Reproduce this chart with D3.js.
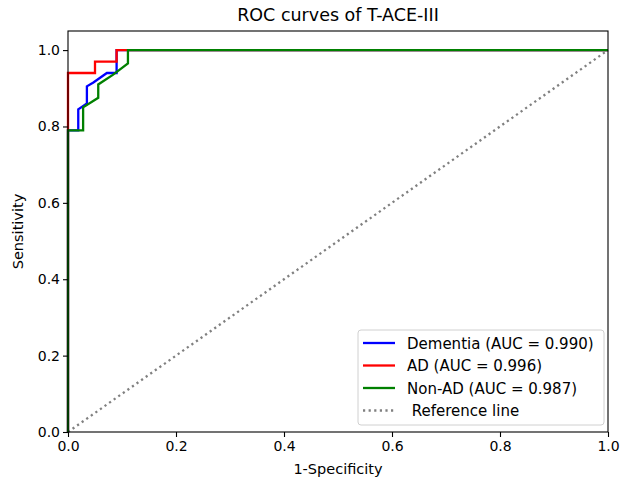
<!DOCTYPE html>
<html>
<head>
<meta charset="utf-8">
<script src="https://cdn.jsdelivr.net/npm/d3@7"></script>
<style>
  body { margin: 0; background: #fff; }
  text { font-family: "DejaVu Sans", sans-serif; fill: #000; }
</style>
</head>
<body>
<div id="canvas"></div>
<script>
// Constants
const w = 620;
const h = 481;
const margin = { top: 31, right: 12, bottom: 49, left: 68 };

// Data
const xTicks = [0.0, 0.2, 0.4, 0.6, 0.8, 1.0];
const yTicks = [0.0, 0.2, 0.4, 0.6, 0.8, 1.0];

const dementiaFpr = [0, 0, 0.019, 0.019, 0.035, 0.035, 0.047, 0.072, 0.09, 0.09, 1];
const dementiaTpr = [0, 0.79, 0.79, 0.845, 0.86, 0.905, 0.915, 0.94, 0.94, 1.0, 1.0];

const adFpr = [0, 0, 0.05, 0.05, 0.09, 0.09, 1];
const adTpr = [0, 0.94, 0.94, 0.97, 0.97, 1.0, 1.0];

const nonAdFpr = [0, 0, 0.028, 0.028, 0.056, 0.056, 0.083, 0.111, 0.111, 1];
const nonAdTpr = [0, 0.79, 0.79, 0.85, 0.875, 0.91, 0.935, 0.965, 1.0, 1.0];

const refLine = [0, 1];

const seriesNames = ["Dementia (AUC = 0.990)", "AD (AUC = 0.996)", "Non-AD (AUC = 0.987)"];
const seriesColors = ["#0000ff", "#ff0000", "#008000"];

const xScale = d3.scaleLinear().domain([0, 1]).range([margin.left, w - margin.right]);
const yScale = d3.scaleLinear().domain([0, 1.05]).range([h - margin.bottom, margin.top]);

// SVG setup
const svg = d3.select("#canvas").append("svg")
  .attr("width", w)
  .attr("height", h);

const series = [
  { fpr: dementiaFpr, tpr: dementiaTpr },
  { fpr: adFpr, tpr: adTpr },
  { fpr: nonAdFpr, tpr: nonAdTpr }
];

const line = d3.line()
  .x(d => xScale(d[0]))
  .y(d => yScale(d[1]));

// reference diagonal
svg.append("path")
  .datum(refLine.map(v => [v, v]))
  .attr("d", line)
  .attr("fill", "none")
  .attr("stroke", "#808080")
  .attr("stroke-width", 2.3)
  .attr("stroke-dasharray", "2.2,3.4");

series.forEach((s, i) => {
  svg.append("path")
    .datum(s.fpr.map((f, j) => [f, s.tpr[j]]))
    .attr("d", line)
    .attr("fill", "none")
    .attr("stroke", seriesColors[i])
    .attr("stroke-width", 2.3);
});

// Axes
const xAxis = svg.append("g")
  .attr("transform", `translate(0,${h - margin.bottom})`)
  .call(d3.axisBottom(xScale).tickValues(xTicks).tickFormat(d3.format(".1f")).tickSize(5).tickPadding(4));

const yAxis = svg.append("g")
  .attr("transform", `translate(${margin.left},0)`)
  .call(d3.axisLeft(yScale).tickValues(yTicks).tickFormat(d3.format(".1f")).tickSize(5).tickPadding(3));

[xAxis, yAxis].forEach(a => {
  a.select(".domain").remove();
  a.selectAll(".tick line").attr("stroke", "#000").attr("stroke-width", 1.1);
  a.selectAll(".tick text")
    .style("font-family", "DejaVu Sans, sans-serif")
    .style("font-size", "14px")
    .attr("fill", "#000");
});

// frame
svg.append("rect")
  .attr("x", margin.left)
  .attr("y", margin.top)
  .attr("width", w - margin.left - margin.right)
  .attr("height", h - margin.top - margin.bottom)
  .attr("fill", "none")
  .attr("stroke", "#000")
  .attr("stroke-width", 1.1);

// Title and labels
svg.append("text")
  .attr("x", (margin.left + w - margin.right) / 2)
  .attr("y", 21)
  .attr("text-anchor", "middle")
  .style("font-size", "17.5px")
  .text("ROC curves of T-ACE-III");

svg.append("text")
  .attr("x", (margin.left + w - margin.right) / 2)
  .attr("y", 474)
  .attr("text-anchor", "middle")
  .style("font-size", "14.5px")
  .text("1-Specificity");

svg.append("text")
  .attr("transform", `translate(23,${(margin.top + h - margin.bottom) / 2}) rotate(-90)`)
  .attr("text-anchor", "middle")
  .style("font-size", "14.5px")
  .text("Sensitivity");

// Legend
const legend = svg.append("g").attr("transform", "translate(358,330)");
legend.append("rect")
  .attr("width", 246)
  .attr("height", 95)
  .attr("rx", 3)
  .attr("fill", "#fff")
  .attr("fill-opacity", 0.8)
  .attr("stroke", "#d0d0d0");

seriesNames.forEach((name, i) => {
  const y = 13 + i * 22.5;
  legend.append("line")
    .attr("x1", 5).attr("x2", 37)
    .attr("y1", y).attr("y2", y)
    .attr("stroke", seriesColors[i])
    .attr("stroke-width", 2.3);
  legend.append("text")
    .attr("x", 49)
    .attr("y", y + 5.5)
    .style("font-size", "15px")
    .text(name);
});

const refY = 13 + 3 * 22.5;
legend.append("line")
  .attr("x1", 5).attr("x2", 37)
  .attr("y1", refY).attr("y2", refY)
  .attr("stroke", "#808080")
  .attr("stroke-width", 2.3)
  .attr("stroke-dasharray", "2.2,3.4");
legend.append("text")
  .attr("x", 49)
  .attr("y", refY + 5.5)
  .style("font-size", "15px")
  .attr("xml:space", "preserve")
  .text(" Reference line");
</script>
</body>
</html>
